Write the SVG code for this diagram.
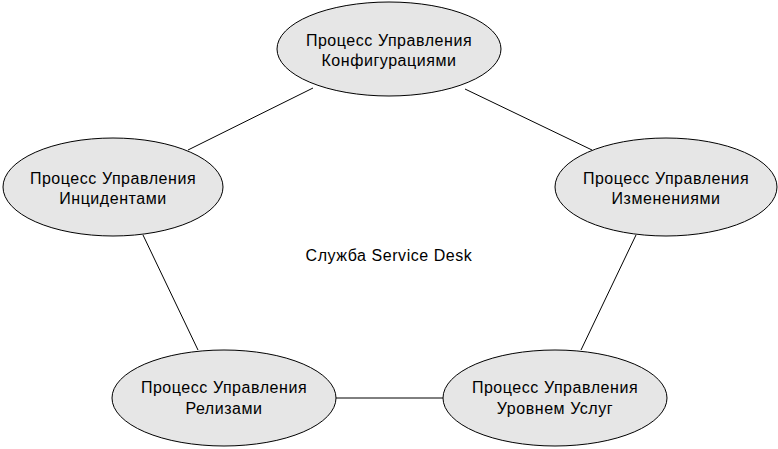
<svg xmlns="http://www.w3.org/2000/svg" width="778" height="449" viewBox="0 0 778 449">
<style>
.n ellipse{fill:#e6e6e6;stroke:#000;stroke-width:1}
text{font-family:"Liberation Sans",Arial,sans-serif;font-size:16px;letter-spacing:0.55px;fill:#000;text-anchor:middle}
.c line{stroke:#000;stroke-width:1}
</style>
<rect width="778" height="449" fill="#fff"/>
<g class="c" id="connectors">
<line x1="188" y1="150" x2="313" y2="88"/>
<line x1="465" y1="89" x2="592" y2="150"/>
<line x1="143" y1="235" x2="198" y2="350"/>
<line x1="636" y1="235" x2="581" y2="350"/>
<line x1="336" y1="398" x2="444" y2="398"/>
</g>
<g class="n" id="config">
<ellipse cx="389" cy="49" rx="112" ry="47"/>
<text x="389" y="46">Процесс Управления</text>
<text x="389" y="66">Конфигурациями</text>
</g>
<g class="n" id="incidents">
<ellipse cx="113" cy="187" rx="110" ry="49"/>
<text x="113" y="184">Процесс Управления</text>
<text x="113" y="204">Инцидентами</text>
</g>
<g class="n" id="changes">
<ellipse cx="666" cy="187" rx="111" ry="49"/>
<text x="666" y="184">Процесс Управления</text>
<text x="666" y="204">Изменениями</text>
</g>
<g class="n" id="releases">
<ellipse cx="224" cy="398" rx="112" ry="48"/>
<text x="224" y="393">Процесс Управления</text>
<text x="224" y="414">Релизами</text>
</g>
<g class="n" id="sla">
<ellipse cx="555" cy="398" rx="112" ry="48"/>
<text x="555" y="393">Процесс Управления</text>
<text x="555" y="414">Уровнем Услуг</text>
</g>
<g id="center">
<text x="389" y="261">Служба Service Desk</text>
</g>
</svg>
